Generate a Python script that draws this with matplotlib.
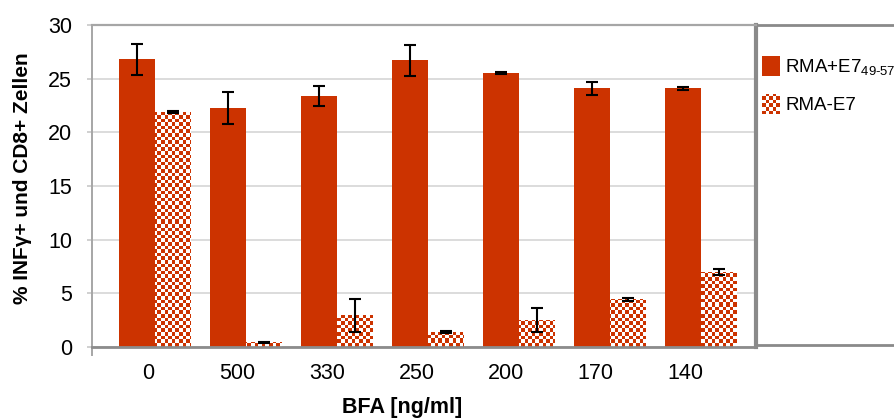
import numpy as np
import matplotlib
matplotlib.use("Agg")
import matplotlib.pyplot as plt
from matplotlib.patches import Rectangle
from matplotlib.lines import Line2D
from matplotlib.colors import ListedColormap
from matplotlib.legend_handler import HandlerBase

plt.rcParams["font.family"] = ["Liberation Sans", "DejaVu Sans"]
plt.rcParams["mathtext.fontset"] = "custom"
plt.rcParams["mathtext.rm"] = "Liberation Sans"

# BFA concentrations and measured percentages
doses = ["0", "500", "330", "250", "200", "170", "140"]
series_names = ["RMA+E7$_{\\mathregular{49\u201057}}$", "RMA-E7"]
pulsed = [26.8, 22.3, 23.4, 26.7, 25.5, 24.1, 24.1]
pulsed_err = [1.45, 1.5, 0.9, 1.45, 0.1, 0.6, 0.15]
unpulsed = [21.9, 0.45, 2.95, 1.4, 2.5, 4.45, 7.0]
unpulsed_err = [0.12, 0.05, 1.55, 0.05, 1.1, 0.12, 0.3]
yticks = [0, 5, 10, 15, 20, 25, 30]

RED = "#CC3300"
W_PX, H_PX = 895, 418

fig = plt.figure(figsize=(W_PX / 100, H_PX / 100), dpi=100)
ax_l, ax_r, ax_t, ax_b = 92, 756, 25, 347
ax = fig.add_axes([ax_l / W_PX, 1 - ax_b / H_PX,
                   (ax_r - ax_l) / W_PX, (ax_b - ax_t) / H_PX])

x = np.arange(len(doses))
w = 0.395
xlim = (-0.692, 6.604)
ylim = (0, 30)

ax.bar(x - w / 2, pulsed, w, color=RED, edgecolor="none", zorder=2)
hatched = ax.bar(x + w / 2, unpulsed, w, color="white", edgecolor="none", zorder=2)
solid = ax.patches[:len(doses)]

# checkerboard texture at screen resolution, clipped to each bar
cell = 3.6
Wp, Hp = ax_r - ax_l, ax_b - ax_t
yy, xx = np.mgrid[0:Hp, 0:Wp]
tex = ((xx // cell).astype(int) + (yy // cell).astype(int)) % 2
cmap = ListedColormap(["white", RED])
for p in hatched.patches:
    im = ax.imshow(tex, extent=(xlim[0], xlim[1], ylim[0], ylim[1]),
                   origin="lower", aspect="auto", interpolation="nearest",
                   cmap=cmap, vmin=0, vmax=1, zorder=2.1)
    im.set_clip_path(p)

ax.errorbar(x - w / 2, pulsed, yerr=pulsed_err, fmt="none", ecolor="black",
            elinewidth=1.5, capsize=4.5, capthick=1.5, zorder=4)
ax.errorbar(x + w / 2, unpulsed, yerr=unpulsed_err, fmt="none", ecolor="black",
            elinewidth=1.5, capsize=4.5, capthick=1.5, zorder=4)

ax.set_xlim(*xlim)
ax.set_ylim(*ylim)

# category labels sit slightly left of the bar groups
label_pos = [(-7 + 89.5 * i) / 91 for i in range(len(doses))]
ax.set_xticks(label_pos)
ax.set_xticklabels(doses, fontsize=15.5)
ax.tick_params(axis="x", length=0, pad=11.5)

ax.set_yticks(yticks)
ax.set_yticklabels([str(v) for v in yticks], fontsize=15.5)
ax.tick_params(axis="y", direction="out", length=3.8, width=1.2,
               color="#c8c8c8", pad=10.5)
ax.yaxis.grid(True, color="#d9d9d9", linewidth=1.3, zorder=0)
ax.set_axisbelow(True)

for side, col, lw in [("top", "#a6a6a6", 1.6), ("left", "#a6a6a6", 1.4),
                      ("bottom", "#8c8c8c", 2.0), ("right", "#8a8a8a", 3.0)]:
    ax.spines[side].set_color(col)
    ax.spines[side].set_linewidth(lw)
ax.add_line(Line2D([0, 0], [0, -8 / Hp], transform=ax.transAxes,
                   color="#a6a6a6", lw=1.4, clip_on=False))

# legend panel to the right of the plot
fig.add_artist(Rectangle((ax_r / W_PX, 1 - 345 / H_PX), 0.3, (345 - 25) / H_PX,
                         transform=fig.transFigure, facecolor="white",
                         edgecolor="#8a8a8a", linewidth=2.0, zorder=-1))


class CheckerHandler(HandlerBase):
    def create_artists(self, legend, orig_handle, xdescent, ydescent,
                       width, height, fontsize, trans):
        arts = [Rectangle((-xdescent, -ydescent), width, height,
                          facecolor="white", edgecolor="none", transform=trans)]
        c = 2.6
        nx = int(np.ceil(width / c))
        ny = int(np.ceil(height / c))
        for i in range(nx):
            for j in range(ny):
                if (i + j) % 2 == 0:
                    cw = min(c, width - i * c)
                    ch = min(c, height - j * c)
                    arts.append(Rectangle((-xdescent + i * c, -ydescent + j * c),
                                          cw, ch, facecolor=RED,
                                          edgecolor="none", transform=trans))
        return arts


leg = fig.legend([solid[0], hatched], series_names,
                 handler_map={hatched: CheckerHandler()},
                 loc="upper left", bbox_to_anchor=(762 / W_PX, 1 - 56 / H_PX),
                 bbox_transform=fig.transFigure, frameon=False, fontsize=13.5,
                 borderpad=0, borderaxespad=0, handlelength=0.95,
                 handleheight=1.3, handletextpad=0.3, labelspacing=0.85)

fig.text(23 / W_PX, 1 - 178 / H_PX, "% INFγ+ und CD8+ Zellen", rotation=90,
         ha="center", va="center", fontsize=15, fontweight="bold")
fig.text(402 / W_PX, 1 - 407 / H_PX, "BFA [ng/ml]", ha="center", va="center",
         fontsize=15.5, fontweight="bold")

fig.savefig("out.png", dpi=100)
